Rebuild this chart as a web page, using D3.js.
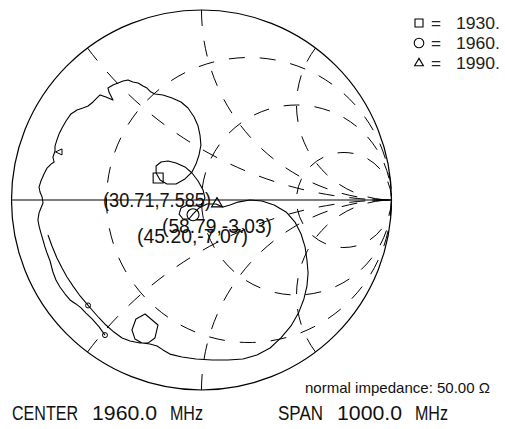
<!DOCTYPE html>
<html><head><meta charset="utf-8">
<script src="https://cdn.jsdelivr.net/npm/d3@7"></script>
<style>html,body{margin:0;padding:0;background:#fff;overflow:hidden}</style>
</head><body><svg id="c" width="505" height="429"></svg>
<script>
// ---- data ----
const z0 = 50;
const centerMHz = "1960.0";
const spanMHz = "1000.0";
const markerSymbols = ["square", "circle", "triangle"];
const markerFreqs = [1930, 1960, 1990];
const markerRe = [30.71, 45.20, 58.79];
const markerIm = [7.585, -7.07, -3.03];
const gridR = [1/3, 1, 3];
const gridX = [0.5, 1, 2, -0.5, -1, -2];
// trace as reflection coefficient (real, imag), 1460 -> 2460 MHz
const traceGr = [-0.508,-0.539,-0.576,-0.608,-0.634,-0.661,-0.692,-0.718,-0.745,-0.766,-0.782,-0.797,-0.813,-0.824,-0.834,-0.845,-0.855,-0.861,-0.855,-0.845,-0.834,-0.839,-0.850,-0.855,-0.845,-0.829,-0.813,-0.792,-0.776,-0.782,-0.771,-0.771,-0.761,-0.750,-0.734,-0.713,-0.687,-0.655,-0.624,-0.597,-0.571,-0.550,-0.534,-0.503,-0.466,-0.487,-0.492,-0.466,-0.439,-0.413,-0.387,-0.361,-0.334,-0.308,-0.287,-0.266,-0.245,-0.203,-0.155,-0.108,-0.071,-0.039,-0.018,-0.008,-0.003,-0.013,-0.029,-0.050,-0.087,-0.134,-0.182,-0.218,-0.239,-0.239,-0.213,-0.176,-0.134,-0.087,-0.050,-0.018,0.008,0.018,0.003,-0.034,-0.076,-0.108,-0.118,-0.097,-0.066,-0.045,-0.013,0.029,0.076,0.113,0.150,0.192,0.255,0.318,0.382,0.445,0.492,0.524,0.545,0.555,0.561,0.555,0.539,0.513,0.471,0.418,0.361,0.292,0.218,0.139,0.055,-0.029,-0.103,-0.166,-0.203,-0.234,-0.271,-0.313,-0.350,-0.366,-0.345,-0.297,-0.229,-0.245,-0.282,-0.324,-0.376,-0.418,-0.461,-0.503,-0.539,-0.576,-0.608,-0.639,-0.676,-0.708,-0.734,-0.761,-0.787,-0.808];
const traceGi = [-0.711,-0.668,-0.626,-0.595,-0.568,-0.547,-0.526,-0.495,-0.458,-0.421,-0.379,-0.321,-0.279,-0.247,-0.211,-0.174,-0.137,-0.105,-0.068,-0.042,-0.016,0.016,0.042,0.068,0.100,0.137,0.168,0.189,0.200,0.226,0.258,0.284,0.316,0.347,0.379,0.416,0.453,0.474,0.484,0.495,0.516,0.537,0.553,0.542,0.526,0.568,0.589,0.605,0.616,0.626,0.632,0.621,0.616,0.600,0.589,0.568,0.558,0.553,0.537,0.516,0.484,0.437,0.389,0.342,0.289,0.237,0.189,0.147,0.111,0.084,0.084,0.105,0.142,0.179,0.200,0.205,0.195,0.174,0.142,0.100,0.053,0.011,-0.021,-0.032,-0.026,-0.042,-0.074,-0.100,-0.100,-0.074,-0.042,-0.021,-0.021,-0.037,-0.026,-0.011,0.000,-0.005,-0.026,-0.063,-0.116,-0.179,-0.247,-0.316,-0.384,-0.453,-0.521,-0.589,-0.663,-0.726,-0.779,-0.816,-0.837,-0.842,-0.842,-0.837,-0.826,-0.811,-0.789,-0.768,-0.758,-0.753,-0.732,-0.684,-0.626,-0.600,-0.658,-0.726,-0.753,-0.753,-0.742,-0.726,-0.695,-0.658,-0.621,-0.579,-0.542,-0.505,-0.453,-0.405,-0.358,-0.305,-0.242,-0.184];
// tiny marks drawn on the trace
const tinyGr = [-0.750, -0.597, -0.508];
const tinyGi = [0.253, -0.555, -0.711];
const tinyShape = ["flag", "dot", "dot"];

// ---- drawing ----
const svg = d3.select("#c");
const cx = 201.5, cy = 200, R = 190;
const sx = d3.scaleLinear().domain([-1, 1]).range([cx - R, cx + R]);
const sy = d3.scaleLinear().domain([-1, 1]).range([cy + R, cy - R]);
const ink = "#000";
const font = "'Liberation Sans', Arial, sans-serif";

const grid = svg.append("g").attr("fill", "none").attr("stroke", ink)
  .attr("stroke-width", 1).attr("stroke-dasharray", "16,15");
gridR.forEach(r => {
  grid.append("circle")
    .attr("cx", sx(r / (r + 1))).attr("cy", sy(0))
    .attr("r", sx(1 / (r + 1)) - sx(0));
});
gridX.forEach(xv => {
  const ex = (xv * xv - 1) / (xv * xv + 1), ey = 2 * xv / (xv * xv + 1);
  const rad = sx(1 / Math.abs(xv)) - sx(0);
  const sweep = xv > 0 ? 0 : 1;
  grid.append("path")
    .attr("d", `M${sx(ex)},${sy(ey)} A${rad},${rad} 0 0 ${sweep} ${sx(1)},${sy(0)}`);
});

// real axis and outer circle
svg.append("line").attr("x1", sx(-1)).attr("x2", sx(1)).attr("y1", sy(0)).attr("y2", sy(0))
  .attr("stroke", ink).attr("stroke-width", 1.1);
svg.append("circle").attr("cx", sx(0)).attr("cy", sy(0)).attr("r", sx(1) - sx(0))
  .attr("fill", "none").attr("stroke", ink).attr("stroke-width", 1.2);

// trace
const idx = d3.range(traceGr.length);
const line = d3.line().x(i => sx(traceGr[i])).y(i => sy(traceGi[i]))
  .curve(d3.curveLinear);
svg.append("path").attr("d", line(idx)).attr("fill", "none")
  .attr("stroke", ink).attr("stroke-width", 1.1).attr("stroke-linejoin", "round");

// tiny marks
tinyGr.forEach((g, i) => {
  const px = sx(g), py = sy(tinyGi[i]);
  if (tinyShape[i] === "flag") {
    svg.append("path").attr("d", `M${px-3.5},${py} L${px+3},${py-3} L${px+3},${py+3} Z`)
      .attr("fill", "none").attr("stroke", ink).attr("stroke-width", 1);
  } else {
    svg.append("circle").attr("cx", px).attr("cy", py).attr("r", 2.5)
      .attr("fill", "none").attr("stroke", ink).attr("stroke-width", 1);
  }
});

// markers
function gammaOf(re, im) {
  const a = re / z0, b = im / z0;
  const nr = a - 1, ni = b, dr = a + 1, di = b;
  const den = dr * dr + di * di;
  return [(nr * dr + ni * di) / den, (ni * dr - nr * di) / den];
}
function symbolPath(kind, px, py, s) {
  if (kind === "square") return `M${px-s},${py-s}h${2*s}v${2*s}h${-2*s}Z`;
  if (kind === "triangle") return `M${px},${py-s*1.15} L${px+s*1.1},${py+s*0.7} L${px-s*1.1},${py+s*0.7}Z`;
  return null;
}
function drawSymbol(kind, px, py, s) {
  if (kind === "circle") {
    svg.append("circle").attr("cx", px).attr("cy", py).attr("r", s * 1.2)
      .attr("fill", "none").attr("stroke", ink).attr("stroke-width", 1.1);
  } else {
    svg.append("path").attr("d", symbolPath(kind, px, py, s))
      .attr("fill", "none").attr("stroke", ink).attr("stroke-width", 1.1);
  }
}
markerRe.forEach((re, i) => {
  const g = gammaOf(re, markerIm[i]);
  drawSymbol(markerSymbols[i], sx(g[0]), sy(g[1]) - (markerSymbols[i] === "triangle" ? 1.5 : 0), 5);
});

// marker readouts (positions chosen to match layout)
const labelPos = [[103, 207, 108], [137, 243, 111], [162, 233, 110]];
markerRe.forEach((re, i) => {
  const t = `(${re.toFixed(2)},${String(markerIm[i])})`;
  const p = labelPos[i];
  svg.append("text").attr("x", p[0]).attr("y", p[1]).text(t)
    .attr("font-family", font).attr("font-size", 20).attr("fill", "#111")
    .attr("textLength", p[2]).attr("lengthAdjust", "spacingAndGlyphs");
});

// legend
markerFreqs.forEach((f, i) => {
  const by = 29 + i * 20;
  drawSymbol(markerSymbols[i], 419, by - 6, 4);
  svg.append("text").attr("x", 431).attr("y", by).text("=")
    .attr("font-family", font).attr("font-size", 16).attr("fill", "#222")
    .attr("textLength", 10).attr("lengthAdjust", "spacingAndGlyphs");
  svg.append("text").attr("x", 456).attr("y", by).text(f + ".")
    .attr("font-family", font).attr("font-size", 16).attr("fill", "#222")
    .attr("textLength", 44).attr("lengthAdjust", "spacingAndGlyphs");
});

// footer texts
svg.append("text").attr("x", 305).attr("y", 393)
  .text(`normal impedance: ${z0.toFixed(2)} Ω`)
  .attr("font-family", font).attr("font-size", 15).attr("fill", "#111")
  .attr("textLength", 185).attr("lengthAdjust", "spacingAndGlyphs");
const footWords = [["CENTER", 12, 66], [centerMHz, 92, 65], ["MHz", 170, 33],
                   ["SPAN", 278, 45], [spanMHz, 337, 65], ["MHz", 415, 33]];
footWords.forEach(w => {
  svg.append("text").attr("x", w[1]).attr("y", 420).text(w[0])
    .attr("font-family", font).attr("font-size", 20).attr("fill", "#111")
    .attr("textLength", w[2]).attr("lengthAdjust", "spacingAndGlyphs");
});
</script></body></html>
